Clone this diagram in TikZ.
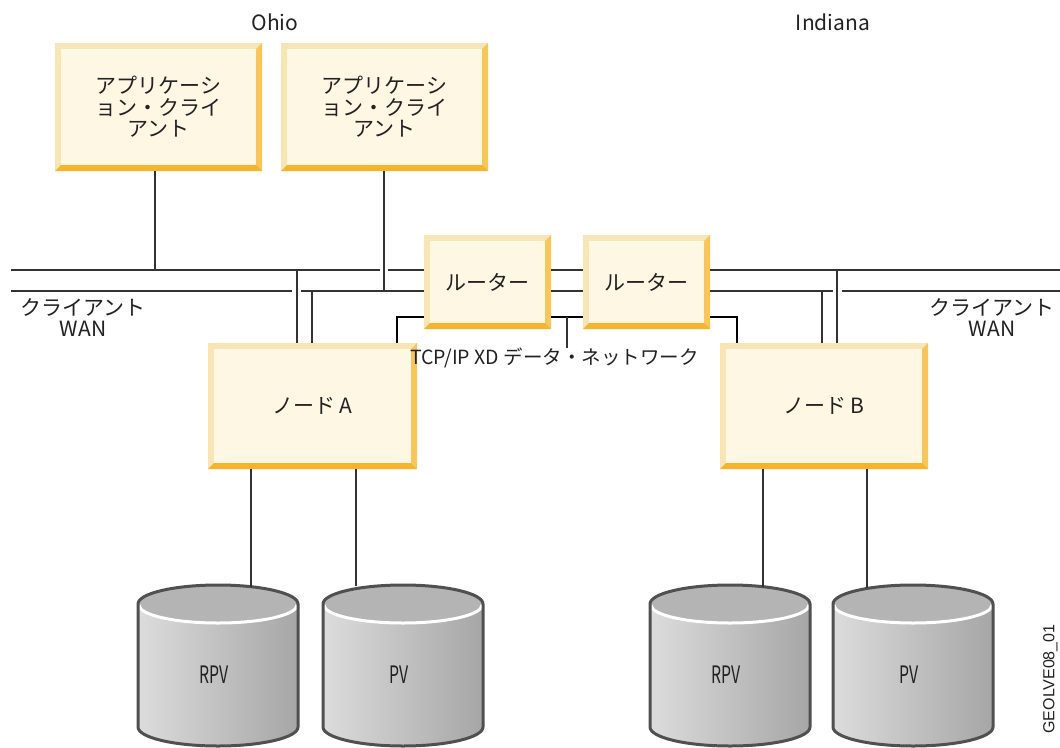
\documentclass[tikz,border=0pt]{standalone}
\usepackage{fontspec}
\setmainfont{Noto Sans CJK JP}
\newfontfamily\lsans{Liberation Sans}
\usetikzlibrary{calc}
\definecolor{bvL}{HTML}{F7E5B5}
\definecolor{bvR}{HTML}{F6C65A}
\definecolor{bvB}{HTML}{F5B42C}
\definecolor{bvI}{HTML}{FEF7E4}
\definecolor{txt}{HTML}{222222}
\definecolor{lineg}{HTML}{333333}
\definecolor{cylL}{HTML}{DCDCDC}
\definecolor{cylR}{HTML}{A6A6A6}
\definecolor{cylT}{HTML}{B4B4B4}
\definecolor{cylO}{HTML}{505050}
\tikzset{
  bev/.style={inner sep=0pt, align=center, text=txt,
    font=\fontsize{21}{21.5}\selectfont,
    path picture={
      \fill[bvL] (path picture bounding box.south west) rectangle (path picture bounding box.north east);
      \fill[bvR] (path picture bounding box.north east) -- (path picture bounding box.south east)
        -- ([shift={(-6pt,6pt)}]path picture bounding box.south east)
        -- ([shift={(-6pt,-6pt)}]path picture bounding box.north east) -- cycle;
      \fill[bvB] (path picture bounding box.south west) -- (path picture bounding box.south east)
        -- ([shift={(-6pt,6pt)}]path picture bounding box.south east)
        -- ([shift={(6pt,6pt)}]path picture bounding box.south west) -- cycle;
      \fill[bvI] ([shift={(6pt,6pt)}]path picture bounding box.south west)
        rectangle ([shift={(-6pt,-6pt)}]path picture bounding box.north east);
    }},
  lbl/.style={inner sep=0pt, text=txt, font=\fontsize{21}{21}\selectfont, align=center},
  wan/.style={draw=lineg, line width=1.4pt},
  tcpl/.style={draw=black, line width=2pt},
  conn/.style={draw=lineg, line width=1.4pt},
}
\newcommand\mycyl[3]{%
  \shade[left color=cylL, right color=cylR] (#2-80,604) -- (#2-80,727)
    arc[start angle=180, end angle=360, x radius=80pt, y radius=19pt] -- (#2+80,604) -- cycle;
  \fill[cylT] (#2,604) ellipse [x radius=80pt, y radius=19pt];
  \draw[white, line width=3pt] (#2-79,605) arc[start angle=180, end angle=360, x radius=79pt, y radius=18pt];
  \draw[cylO, line width=3pt, line join=round] (#2-80,727) -- (#2-80,604)
    arc[start angle=180, end angle=0, x radius=80pt, y radius=19pt] -- (#2+80,727)
    arc[start angle=0, end angle=-180, x radius=80pt, y radius=19pt] -- cycle;
  \node[inner sep=0pt, text=txt, font=\fontsize{24}{24}\selectfont] (#1) at (#2-4,675) {\scalebox{0.66}[1]{#3}};
}
\begin{document}
\begin{tikzpicture}[x=1pt, y=-1pt]
\useasboundingbox (0,0) rectangle (1060,747);
\fill[white] (0,0) rectangle (1060,747);

% coordinates for WAN lines
\coordinate (LU) at (11,270);
\coordinate (LL) at (11,291);
\coordinate (RU) at (1060,270);
\coordinate (RL) at (1060,291);
\coordinate (T) at (0,317);

% boxes
\node[bev, minimum width=207pt, minimum height=128pt] (app1) at (158.5,107) {アプリケーシ\\ョン・クライ\\アント};
\node[bev, minimum width=207pt, minimum height=128pt] (app2) at (384.5,107) {アプリケーシ\\ョン・クライ\\アント};
\node[bev, minimum width=127pt, minimum height=94pt] (r1) at (487.5,282) {ルーター};
\node[bev, minimum width=127pt, minimum height=94pt] (r2) at (646.5,282) {ルーター};
\node[bev, minimum width=209pt, minimum height=126pt] (nA) at (312.5,406) {ノード A};
\node[bev, minimum width=208pt, minimum height=126pt] (nB) at (824,406) {ノード B};

% labels
\node[lbl] (ohio) at (275,22) {Ohio};
\node[lbl] (ind) at (833,22) {Indiana};
\node[lbl] (wanL) at (83,318) {クライアント\\WAN};
\node[lbl] (wanR) at (992,318) {クライアント\\WAN};
\node[lbl, font=\fontsize{19.5}{19.5}\selectfont] (tcp) at (554.5,358) {TCP/IP XD データ・ネットワーク};
\node[inner sep=0pt, rotate=90, anchor=north, text=txt, font=\lsans\fontsize{16}{16}\selectfont] (code) at (1043,679) {GEOLVE08\_01};

% upper WAN line (left)
\draw[wan] (LU) -- ([xshift=-4.5pt]app2.south |- LU);
\draw[wan] ([xshift=3.5pt]app2.south |- LU) -- (r1.west |- LU);
% lower WAN line (left)
\draw[wan] (LL) -- (292,291);
\draw[wan] (301,291) -- (r1.west |- LL);
% between routers
\draw[wan] (r1.east |- LU) -- (r2.west |- LU);
\draw[wan] (r1.east |- LL) -- (r2.west |- LL);
% right side
\draw[wan] (r2.east |- LU) -- (RU);
\draw[wan] (r2.east |- LL) -- (833,291);
\draw[wan] (842,291) -- (RL);

% app connections
\draw[conn] ([xshift=-3.5pt]app1.south) -- ([xshift=-3.5pt]app1.south |- LU);
\draw[conn] ([xshift=-0.5pt]app2.south) -- ([xshift=-0.5pt]app2.south |- LL);
% node A to WAN
\draw[conn] ([xshift=-15.5pt]nA.north) -- ([xshift=-15.5pt]nA.north |- LU);
\draw[conn] ([xshift=-0.5pt]nA.north) -- ([xshift=-0.5pt]nA.north |- LL);
% node B to WAN
\draw[conn] ([xshift=-2pt]nB.north) -- ([xshift=-2pt]nB.north |- LL);
\draw[conn] ([xshift=13pt]nB.north) -- ([xshift=13pt]nB.north |- LU);

% TCP/IP XD network
\coordinate (tk) at (567,317);
\draw[tcpl] ([xshift=84.5pt]nA.north) |- (r1.west |- T);
\draw[tcpl] (r1.east |- T) -- (r2.west |- T);
\draw[tcpl] (r2.east |- T) -| ([xshift=-87pt]nB.north);
\draw[conn] (tk) -- (tcp.north -| tk);

% cylinders
\mycyl{rpvA}{218}{RPV}
\mycyl{pvA}{403}{PV}
\mycyl{rpvB}{730}{RPV}
\mycyl{pvB}{913}{PV}
\coordinate (c1t) at (251,587);
\coordinate (c2t) at (356,586);
\coordinate (c3t) at (763,587);
\coordinate (c4t) at (867,588);
\draw[conn] (nA.south -| c1t) -- (c1t);
\draw[conn] (nA.south -| c2t) -- (c2t);
\draw[conn] (nB.south -| c3t) -- (c3t);
\draw[conn] (nB.south -| c4t) -- (c4t);
\end{tikzpicture}
\end{document}
